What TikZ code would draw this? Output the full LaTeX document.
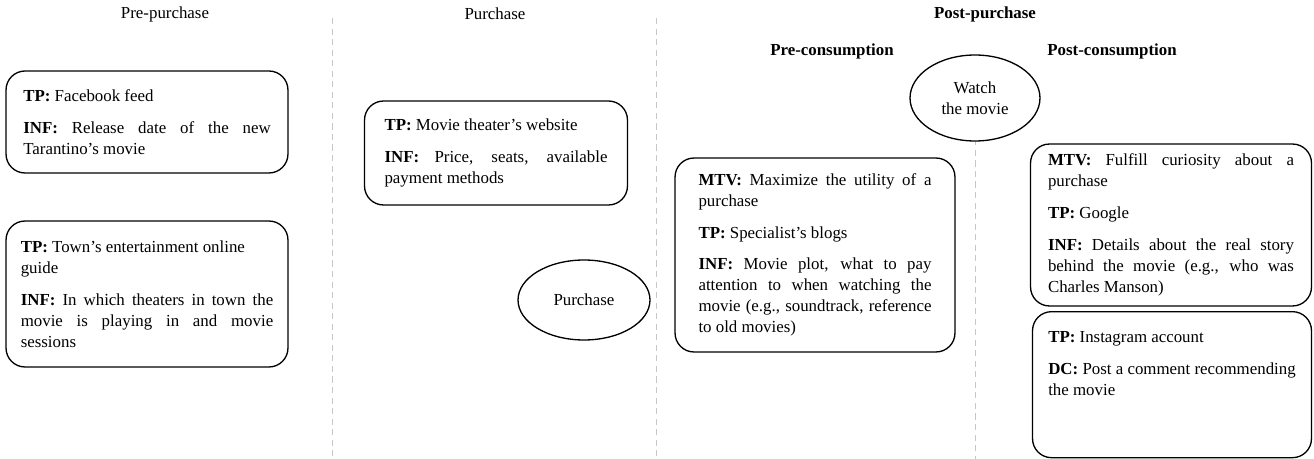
\documentclass[tikz,border=0pt]{standalone}
\usepackage{fontspec}
\setmainfont{Liberation Serif}
\usetikzlibrary{shapes,positioning}
\hyphenpenalty=10000
\exhyphenpenalty=10000

\begin{document}
\begin{tikzpicture}[
    x=0.02cm, y=-0.02cm,
    font=\fontsize{9.6}{12}\selectfont,
    stage/.style={rectangle, draw=black, line width=0.75pt, rounded corners=0.38cm, align=justify, inner ysep=0.2cm, text width=#1},
    event/.style={ellipse, draw=black, line width=0.75pt, fill=white, align=center, inner sep=0pt},
    phase/.style={align=center},
    divider/.style={draw=black!22, dash pattern=on 3.5pt off 2.5pt, line width=0.5pt}
]
\useasboundingbox (0,0) rectangle (1314,459);

% Phase dividers
\coordinate (d1top) at (332,18);
\coordinate (d1bot) at (332,459);
\coordinate (d2top) at (656,18);
\coordinate (d2bot) at (656,459);
\coordinate (d3top) at (975,55);
\coordinate (d3bot) at (975,459);
\draw[divider] (d1top) -- (d1bot);
\draw[divider] (d2top) -- (d2bot);
\draw[divider] (d3top) -- (d3bot);

% Phase titles
\node[phase] (prepurchase) at (165,14) {Pre-purchase};
\node[phase] (purchase) at (495,14) {Purchase};
\node[phase] (postpurchase) at (985,14) {\textbf{Post-purchase}};
\node[phase] (precons) at (832,51) {\textbf{Pre-consumption}};
\node[phase] (postcons) at (1112,51) {\textbf{Post-consumption}};

% Pre-purchase
\node[stage=4.95cm, minimum width=5.64cm, minimum height=2.04cm] (facebook) at (147,122)
    {\textbf{TP:} Facebook feed\\[6pt]\textbf{INF:} Release date of the new Tarantino's movie};
\node[stage=5.05cm, minimum width=5.64cm, minimum height=2.92cm] (town) at (147,294)
    {\textbf{TP:} Town's entertainment online\\guide\\[6pt]\textbf{INF:} In which theaters in town the\linebreak movie is playing in and movie sessions};

% Purchase
\node[stage=4.46cm, minimum width=5.26cm, minimum height=2.08cm] (theater) at (496,153)
    {\textbf{TP:} Movie theater's website\\[6pt]\textbf{INF:} Price, seats, available payment methods};
\node[event, minimum width=2.64cm, minimum height=1.6cm] (buy) at (584,300) {Purchase};

% Post-purchase
\node[event, minimum width=2.6cm, minimum height=1.72cm] (watch) at (975,98) {Watch\\the movie};
\node[stage=4.66cm, minimum width=5.6cm, minimum height=3.88cm] (blogs) at (815,255)
    {\textbf{MTV:} Maximize the utility of a purchase\\[6pt]\textbf{TP:} Specialist's blogs\\[6pt]\textbf{INF:} Movie plot, what to pay attention to when watching the movie (e.g., soundtrack, reference to old movies)};
\node[stage=4.92cm, minimum width=5.62cm, minimum height=3.0cm] (google) at (1171,225)
    {\textbf{MTV:} Fulfill curiosity about a purchase\\[6pt]\textbf{TP:} Google\\[6pt]\textbf{INF:} Details about the real story behind the movie (e.g., who was Charles Manson)};
\node[stage=4.95cm, minimum width=5.58cm, inner ysep=0.4cm, text depth=1.9cm, anchor=north] (insta) at (1172,311)
    {\textbf{TP:} Instagram account\\[6pt]\textbf{DC:} Post a comment recommending the movie};

\end{tikzpicture}
\end{document}
